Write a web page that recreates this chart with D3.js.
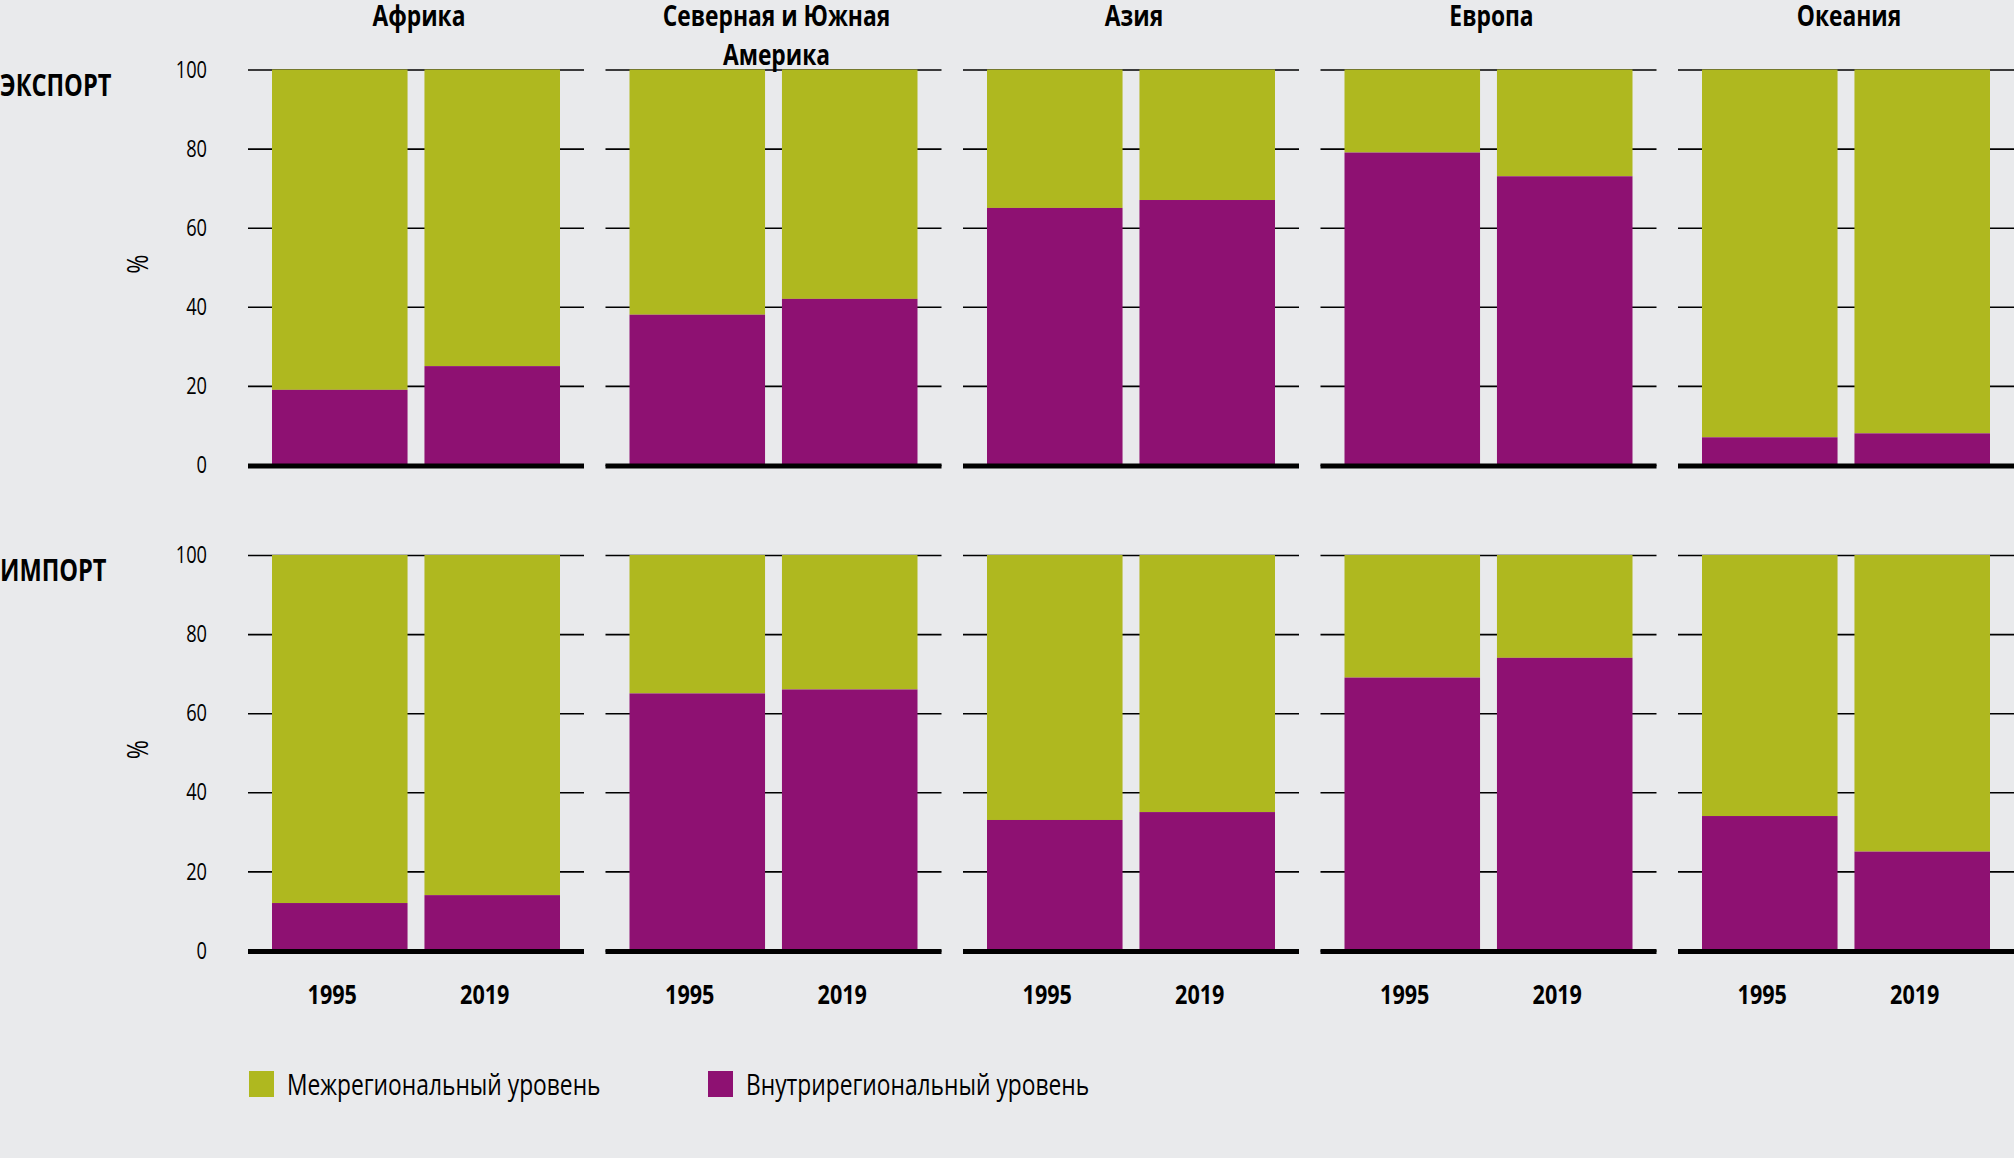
<!DOCTYPE html>
<html><head><meta charset="utf-8">
<script src="https://cdn.jsdelivr.net/npm/d3@7"></script>
<style>
html,body{margin:0;padding:0;background:#E9EAEC;}
svg{display:block;}
text{font-family:"Open Sans","Noto Sans",sans-serif;fill:#000;}
</style></head>
<body>
<script>
const regions = ["Африка", "Северная и Южная|Америка", "Азия", "Европа", "Океания"];
const years = ["1995", "2019"];
const rowsLabels = ["ЭКСПОРТ", "ИМПОРТ"];
const seriesNames = ["Межрегиональный уровень", "Внутрирегиональный уровень"];
const colors = ["#AFB81F", "#8E1172"];
const yTicks = [0, 20, 40, 60, 80, 100];

// Внутрирегиональный уровень (%), [1995, 2019] per region
const exportIntra = [[19, 25], [38, 42], [65, 67], [79, 73], [7, 8]];
const exportInter = [[81, 75], [62, 58], [35, 33], [21, 27], [93, 92]];
const importIntra = [[12, 14], [65, 66], [33, 35], [69, 74], [34, 25]];
const importInter = [[88, 86], [35, 34], [67, 65], [31, 26], [66, 75]];

const W = 2014, H = 1158;
const SX = 0.8; // horizontal condensation of the text
const svg = d3.select("body").append("svg").attr("width", W).attr("height", H);

function ctext(parent, x, y, str, opts) {
  const t = parent.append("text").attr("transform", `translate(${x},${y}) scale(${SX},1)`).text(str);
  Object.entries(opts || {}).forEach(([k, v]) => t.attr(k, v));
  return t;
}

const panelX = d3.scaleBand().domain(d3.range(regions.length)).range([248, 2035.5]);
const panelW = 336;
const xInner = d3.scaleBand().domain(years).range([24, panelW - 24]).paddingInner(0.111);

const rows = [
  {label: rowsLabels[0], intra: exportIntra, inter: exportInter, top: 69.5, bottom: 465},
  {label: rowsLabels[1], intra: importIntra, inter: importInter, top: 555, bottom: 950.5}
];

rows.forEach((row, ri) => {
  const y = d3.scaleLinear().domain([0, 100]).range([row.bottom, row.top]);
  const g = svg.append("g");
  ctext(g, 0, row.top + 26, row.label, {"font-weight": "bold", "font-size": 29.5});
  g.append("text").attr("transform", `translate(148,${(row.top + row.bottom) / 2 - 3}) rotate(-90) scale(${SX},1)`)
    .attr("text-anchor", "middle").attr("font-size", 29).text("%");

  regions.forEach((reg, i) => {
    const px = panelX(i);
    const pg = g.append("g").attr("transform", `translate(${px},0)`);
    const axis = d3.axisLeft(y).tickValues(yTicks).tickSize(-panelW).tickPadding(0)
      .tickFormat(i === 0 ? d3.format("d") : () => "");
    const ag = pg.append("g").call(axis);
    ag.select(".domain").remove();
    ag.selectAll(".tick line").attr("stroke", "#000").attr("stroke-width", 1.6)
      .attr("x1", 0).attr("x2", panelW);
    ag.selectAll(".tick text").attr("font-size", 24).attr("fill", "#000")
      .attr("font-family", "'Open Sans'")
      .attr("x", -41 / 0.76).attr("transform", `scale(0.76,1)`);

    years.forEach((yr, j) => {
      const intra = row.intra[i][j], inter = row.inter[i][j];
      pg.append("rect").attr("x", xInner(yr)).attr("width", xInner.bandwidth())
        .attr("y", y(intra + inter)).attr("height", y(intra) - y(intra + inter)).attr("fill", colors[0]);
      pg.append("rect").attr("x", xInner(yr)).attr("width", xInner.bandwidth())
        .attr("y", y(intra)).attr("height", y(0) - y(intra)).attr("fill", colors[1]);
      if (ri === 1) {
        ctext(pg, xInner(yr) + xInner.bandwidth() / 2 - 7.5, 1004, yr,
          {"text-anchor": "middle", "font-weight": "bold", "font-size": 27});
      }
    });
    pg.append("line").attr("x1", 0).attr("x2", panelW).attr("y1", y(0) + 1).attr("y2", y(0) + 1)
      .attr("stroke", "#000").attr("stroke-width", 5);

    if (ri === 0) {
      const parts = reg.split("|");
      parts.forEach((p, k) => {
        ctext(pg, panelW / 2 + 3, 26 + k * 39, p,
          {"text-anchor": "middle", "font-weight": "bold", "font-size": 28.5});
      });
    }
  });
});

// Legend
const legendX = [249, 708];
seriesNames.forEach((s, i) => {
  const lg = svg.append("g").attr("transform", `translate(${legendX[i]},1071)`);
  lg.append("rect").attr("width", 25).attr("height", 26).attr("fill", colors[i]);
  ctext(lg, 38, 24, s, {"font-size": 28.5});
});
</script>
</body></html>
